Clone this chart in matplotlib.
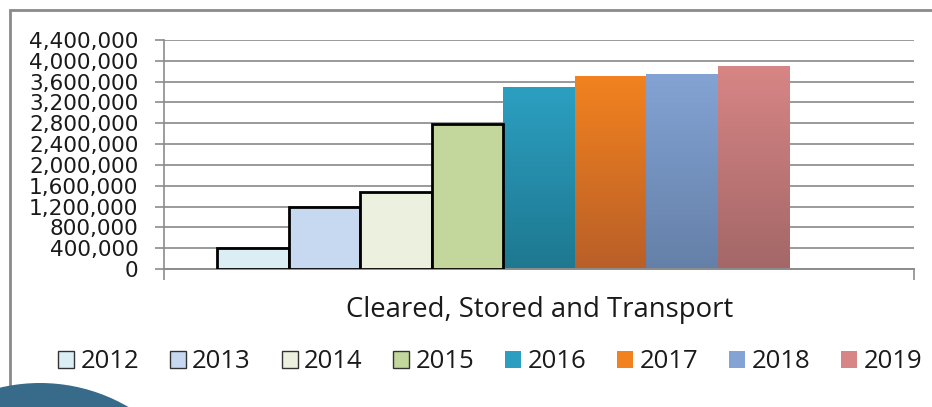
import matplotlib.pyplot as plt
import numpy as np
from matplotlib.colors import LinearSegmentedColormap
from matplotlib.patches import Rectangle, Ellipse, Patch

# data (one category, one bar per year)
years = ['2012', '2013', '2014', '2015', '2016', '2017', '2018', '2019']
values = [395000, 1185000, 1480000, 2795000, 3495000, 3700000, 3740000, 3890000]
ytick_vals = list(range(0, 4400001, 400000))
xlabel = 'Cleared, Stored and Transport'

# flat fills with black outline for the first four years, gradients for the rest
flat_colors = {'2012': '#daeef3', '2013': '#c6d9f1', '2014': '#ebf1de', '2015': '#c3d69b'}
grad_colors = {'2016': ('#2c9fc1', '#1e7890'),
               '2017': ('#f2821f', '#b95f28'),
               '2018': ('#83a3d4', '#6580a8'),
               '2019': ('#d78585', '#a46767')}

plt.rcParams['font.family'] = ['Open Sans', 'DejaVu Sans']

fig = plt.figure(figsize=(9.32, 4.07), dpi=100)
W, H = 932, 407
ax = fig.add_axes([164 / W, 1 - 269 / H, (914 - 164) / W, (269 - 40) / H])

n_slots = len(years) + 1  # an empty ninth slot keeps the right gap as in the original
for i, (yr, v) in enumerate(zip(years, values)):
    if yr in flat_colors:
        ax.bar(i, v, width=1, align='edge', color=flat_colors[yr],
               edgecolor='black', linewidth=2, zorder=3)
    else:
        top, bot = grad_colors[yr]
        cmap = LinearSegmentedColormap.from_list(yr, [bot, top])
        grad = np.linspace(0, 1, 100).reshape(-1, 1)
        ax.imshow(grad, cmap=cmap, origin='lower', aspect='auto',
                  extent=(i, i + 1, 0, v), zorder=2)

ax.set_xlim(-0.74, n_slots + 0.74)
ax.set_ylim(0, 4400000)

ax.set_yticks(ytick_vals)
ax.set_yticklabels([f'{t:,}' for t in ytick_vals], family='DejaVu Sans', fontsize=15.6)
ax.set_xticks([-0.74, n_slots + 0.74])
ax.set_xticklabels([])
ax.tick_params(axis='y', direction='out', length=6.5, width=1.2, color='#8c8c8c',
               pad=12, labelcolor='#1a1a1a')
ax.tick_params(axis='x', direction='out', length=8, width=1.2, color='#8c8c8c')
ax.yaxis.grid(True, color='#9a9a9a', linewidth=1.4, zorder=0)
ax.set_axisbelow(True)
for s in ['top', 'right']:
    ax.spines[s].set_visible(False)
ax.spines['left'].set_color('#8c8c8c')
ax.spines['left'].set_linewidth(1.2)
ax.spines['bottom'].set_color('#8c8c8c')
ax.spines['bottom'].set_linewidth(1.4)

fig.text(540 / W, 1 - 317 / H, xlabel, ha='center', va='baseline',
         fontsize=19.8, color='#1a1a1a')

handles = []
for yr in years:
    if yr in flat_colors:
        handles.append(Patch(facecolor=flat_colors[yr], edgecolor='#333333', linewidth=1))
    else:
        top, bot = grad_colors[yr]
        handles.append(Patch(facecolor=top, edgecolor='none'))
fig.legend(handles, years, loc='center', bbox_to_anchor=(490 / W, 1 - 362 / H),
           ncol=8, frameon=False, fontsize=18.5, handlelength=0.62, handleheight=0.68,
           handletextpad=0.25, columnspacing=1.2, borderpad=0, labelcolor='#1a1a1a')

# chart frame and the slide decoration in the corner
fig.patches.append(Rectangle((10 / W, -0.1), 1.1, 1 - 10 / H + 0.1,
                             transform=fig.transFigure, fill=False,
                             edgecolor='#8a8a8a', linewidth=2))
fig.patches.append(Ellipse((40 / W, 1 - 558 / H), 2 * 175 / W, 2 * 175 / H,
                           transform=fig.transFigure,
                           facecolor='#386a8a', edgecolor='none'))

fig.savefig('out.png', dpi=100)
